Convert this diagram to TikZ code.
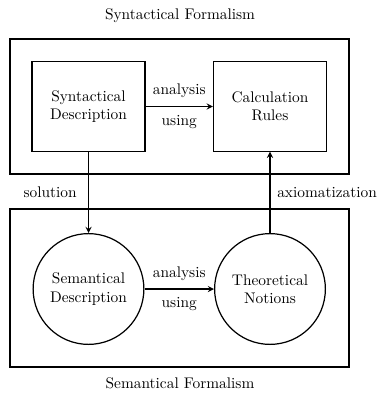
\documentclass[tikz,border=0pt]{standalone}
\usetikzlibrary{calc,shapes}
\begin{document}
\begin{tikzpicture}[x=0.65pt,y=-0.65pt,line width=0.8pt,
frm/.style={draw, minimum width=220.3pt, inner sep=0},
blk/.style={draw, minimum width=73.5pt, minimum height=58pt, align=center, inner sep=0},
rnd/.style={draw, circle, minimum size=72pt, align=center, inner sep=0},
ttl/.style={inner sep=0}]
	\useasboundingbox (0,0) rectangle (385,398);
	\node[frm, minimum height=87.8pt] at (179.5,106.5) (synfrm) {};
	\node[frm, minimum height=102.7pt] at (179.5,288) (semfrm) {};
	\node[ttl] at (180,16) (synttl) {Syntactical Formalism};
	\node[ttl] at (180,383) (semttl) {Semantical Formalism};
	\node[blk] at (88.5,106.5) (syndesc) {Syntactical\\Description};
	\node[blk] at (270,106.5) (calc) {Calculation\\Rules};
	\node[rnd] at (88.5,289) (semdesc) {Semantical\\Description};
	\node[rnd] at (270,289) (theo) {Theoretical\\Notions};
	\draw[-stealth] (syndesc) -- node[above=2pt] {analysis} node[below=2pt] {using} (calc);
	\draw[-stealth] (semdesc) -- node[above=2pt] {analysis} node[below=2pt] {using} (theo);
	\draw[-stealth] (syndesc) -- node[left=4pt] {solution} (semdesc);
	\draw[-stealth] (theo) -- node[right=1pt] {axiomatization} (calc);
\end{tikzpicture}
\end{document}
